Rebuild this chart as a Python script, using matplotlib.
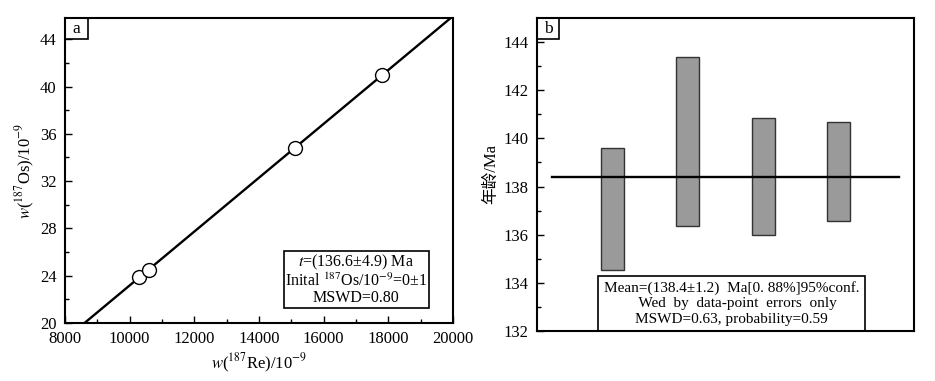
import numpy as np
import matplotlib
matplotlib.use('Agg')
from matplotlib import pyplot as plt
from matplotlib.ticker import MultipleLocator
from matplotlib.patches import Rectangle

plt.rcParams['font.family'] = ['Liberation Serif', 'Noto Sans CJK SC']
plt.rcParams['mathtext.fontset'] = 'stix'

# (a) Re-Os isochron
re187 = [10300, 10600, 15100, 17800]
os187 = [23.9, 24.5, 34.8, 41.0]
slope = 0.002278
intercept = 0.4

# (b) weighted mean ages
samples = [1, 2, 3, 4]
age_top = [139.6, 143.4, 140.85, 140.7]
age_bot = [134.55, 136.35, 136.0, 136.55]
mean_age = 138.4

fig = plt.figure(figsize=(9.35, 3.81), dpi=100)
W, H = 935, 381


def box(ax, x0, y0, x1, y1):
    ax.add_patch(Rectangle((x0, y0), x1 - x0, y1 - y0, transform=ax.transAxes,
                           fc='white', ec='black', lw=1.2, zorder=4))


# ---- panel a
ax1 = fig.add_axes([65 / W, (H - 323) / H, 388 / W, 305 / H])
xs = np.array([8000, 20000])
ax1.plot(xs, slope * xs + intercept, color='black', lw=1.7, zorder=2)
ax1.plot(re187, os187, 'o', ms=10, mfc='white', mec='black', mew=1.0, zorder=3)
ax1.set_xlim(8000, 20000)
ax1.set_ylim(20, 45.8)
ax1.xaxis.set_major_locator(MultipleLocator(2000))
ax1.xaxis.set_minor_locator(MultipleLocator(1000))
ax1.yaxis.set_major_locator(MultipleLocator(4))
ax1.yaxis.set_minor_locator(MultipleLocator(2))
ax1.set_xlabel(r'$w$(${}^{187}$Re)/10$^{-9}$', fontsize=12, labelpad=3)
ax1.set_ylabel(r'$w$(${}^{187}$Os)/10$^{-9}$', fontsize=12, labelpad=2)
box(ax1, 0.564, 0.049, 0.938, 0.236)
ax1.text(0.751, 0.1425,
         '$t$=(136.6±4.9) Ma\nInital $^{187}$Os/10$^{-9}$=0±1\nMSWD=0.80',
         transform=ax1.transAxes, ha='center', va='center', fontsize=11.5,
         linespacing=1.0, zorder=5)
box(ax1, 0.0, 0.93, 0.06, 1.0)
ax1.text(0.03, 0.963, 'a', transform=ax1.transAxes, ha='center', va='center',
         fontsize=12.5, zorder=5)

# ---- panel b
ax2 = fig.add_axes([537 / W, (H - 331) / H, 377 / W, 313 / H])
heights = [t - b for t, b in zip(age_top, age_bot)]
ax2.bar(samples, heights, bottom=age_bot, width=0.31, color='#9a9a9a',
        edgecolor='#333333', lw=1.0, zorder=2)
ax2.plot([0.2, 4.8], [mean_age, mean_age], color='black', lw=1.7, zorder=3)
ax2.set_xlim(0, 5)
ax2.set_ylim(132, 145)
ax2.set_xticks([])
ax2.yaxis.set_major_locator(MultipleLocator(2))
ax2.yaxis.set_minor_locator(MultipleLocator(1))
ax2.set_ylabel('年龄/Ma', fontsize=12, labelpad=3)
box(ax2, 0.162, 0.0, 0.870, 0.176)
ax2.text(0.516, 0.088,
         'Mean=(138.4±1.2)  Ma[0. 88%]95%conf.\n'
         '   Wed  by  data-point  errors  only\n'
         'MSWD=0.63, probability=0.59',
         transform=ax2.transAxes, ha='center', va='center', fontsize=11,
         linespacing=1.25, zorder=5)
box(ax2, 0.0, 0.933, 0.058, 1.0)
ax2.text(0.029, 0.965, 'b', transform=ax2.transAxes, ha='center', va='center',
         fontsize=12.5, zorder=5)

for ax in (ax1, ax2):
    for s in ax.spines.values():
        s.set_linewidth(1.5)
        s.set_zorder(6)
    ax.tick_params(which='both', direction='in', top=False, right=False,
                   labelsize=12, width=1.0, pad=6)
    ax.tick_params(which='major', length=5)
    ax.tick_params(which='minor', length=3)

fig.savefig('out.png', dpi=100)
